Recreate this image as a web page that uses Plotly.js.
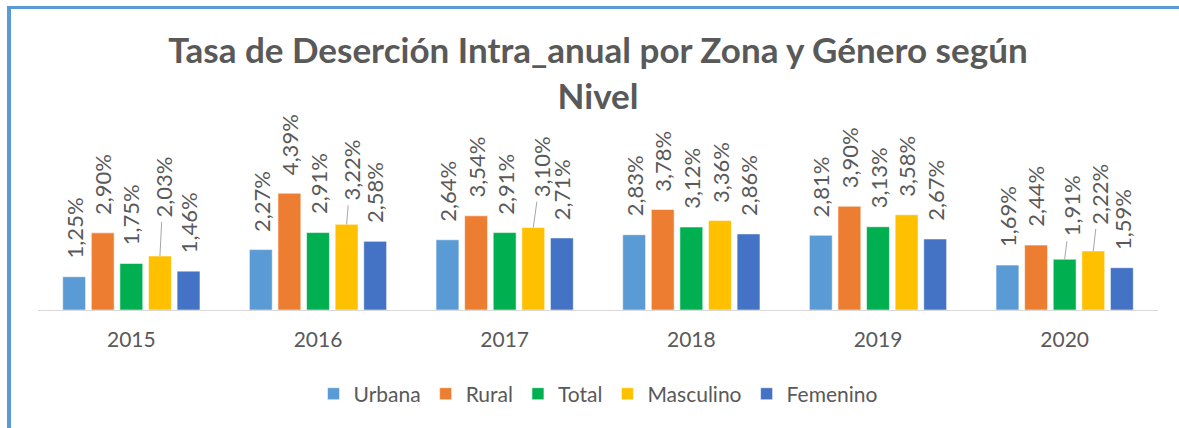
<!DOCTYPE html>
<html>
<head>
<meta charset="utf-8">
<script src="https://cdn.plot.ly/plotly-3.0.1.min.js"></script>
<style>
  html, body { margin: 0; padding: 0; overflow: hidden; background: #fff; }
  #chart { width: 1179px; height: 428px; position: absolute; left: 0; top: 0; }
  #frame { position: absolute; left: 7px; top: 6px; width: 1400px; height: 600px;
           border-top: 3px solid #5B9BD5; border-left: 4px solid #5B9BD5;
           pointer-events: none; z-index: 10; }
</style>
</head>
<body>
<div id="chart"></div>
<div id="frame"></div>
<script>
// ---- data (percent values) ----
const years = ['2015', '2016', '2017', '2018', '2019', '2020'];
const seriesNames = ['Urbana', 'Rural', 'Total', 'Masculino', 'Femenino'];
const urbana    = [1.25, 2.27, 2.64, 2.83, 2.81, 1.69];
const rural     = [2.90, 4.39, 3.54, 3.78, 3.90, 2.44];
const total     = [1.75, 2.91, 2.91, 3.12, 3.13, 1.91];
const masculino = [2.03, 3.22, 3.10, 3.36, 3.58, 2.22];
const femenino  = [1.46, 2.58, 2.71, 2.86, 2.67, 1.59];
const seriesValues = [urbana, rural, total, masculino, femenino];

// ---- style ----
const colors = ['#5B9BD5', '#ED7D31', '#00B050', '#FFC000', '#4472C4'];
const textColor = '#595959';
const FONT = 'Lato, "Open Sans", sans-serif';
const margin = {l: 38, r: 21, t: 177, b: 118};
const plotW = 1179 - margin.l - margin.r;
const bargap = 0.234, bargroupgap = 0.2;
const slot = plotW / years.length * (1 - bargap) / seriesNames.length;

// labels moved away from the bar with a leader line: [series-yearIndex] -> offsets
const leaders = {
  '3-0': {ax: 3.5, ay: -69},
  '3-1': {ax: 4.5, ay: -54},
  '3-2': {ax: 8.5, ay: -61},
  '2-5': {ax: 6.5, ay: -53},
  '3-5': {ax: 6.5, ay: -57}
};

const fmt = v => v.toFixed(2).replace('.', ',') + '%';

const traces = seriesNames.map((name, i) => ({
  type: 'bar',
  name: name,
  x: years,
  y: seriesValues[i],
  marker: {color: colors[i], line: {color: 'rgba(255,255,255,0.55)', width: 1}},
  hoverinfo: 'skip'
}));

const annotations = [];
seriesValues.forEach((vals, i) => {
  vals.forEach((v, j) => {
    const key = i + '-' + j;
    const base = {
      xref: 'x', yref: 'y', x: j, y: v,
      xshift: (i - 2) * slot,
      text: fmt(v), textangle: -90,
      font: {family: FONT, size: 22, color: textColor}
    };
    if (leaders[key]) {
      Object.assign(base, {
        showarrow: true, arrowhead: 0, arrowwidth: 1, arrowcolor: '#A6A6A6',
        ax: leaders[key].ax, ay: leaders[key].ay, standoff: 0, borderpad: 4
      });
    } else {
      Object.assign(base, {showarrow: false, yanchor: 'bottom', yshift: 16});
    }
    annotations.push(base);
  });
});

const layout = {
  width: 1179, height: 428,
  margin: margin,
  paper_bgcolor: '#ffffff', plot_bgcolor: '#ffffff',
  barmode: 'group', bargap: bargap, bargroupgap: bargroupgap,
  font: {family: FONT, color: textColor},
  title: {
    text: 'Tasa de Deserción Intra_anual por Zona y Género según<br>Nivel',
    font: {family: FONT, size: 35, color: textColor, weight: 'bold'},
    xref: 'paper', x: 0.5, xanchor: 'center',
    yref: 'container', y: 1 - 63 / 428, yanchor: 'middle'
  },
  xaxis: {
    type: 'category', range: [-0.5, 5.5], autorange: false,
    showline: true, linecolor: '#D9D9D9', linewidth: 1.3,
    ticks: '', showgrid: false, zeroline: false,
    tickfont: {family: FONT, size: 21, color: textColor},
    ticklabelstandoff: 10, fixedrange: true
  },
  yaxis: {range: [0, 5], autorange: false, visible: false, showgrid: false, zeroline: false, fixedrange: true},
  showlegend: true,
  legend: {
    orientation: 'h', x: 0.5, xanchor: 'center', y: -0.632, yanchor: 'middle',
    font: {family: FONT, size: 21, color: textColor},
    itemclick: false, itemdoubleclick: false, traceorder: 'normal'
  },
  annotations: annotations
};

Plotly.newPlot('chart', traces, layout, {displayModeBar: false, staticPlot: true});
</script>
</body>
</html>
